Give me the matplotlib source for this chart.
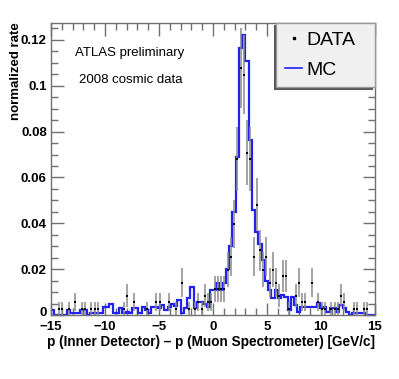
import numpy as np
import matplotlib
matplotlib.use("Agg")
import matplotlib.pyplot as plt
from matplotlib.patches import Rectangle
from matplotlib.lines import Line2D
from matplotlib.ticker import MultipleLocator, FixedLocator
from matplotlib.transforms import ScaledTranslation

plt.rcParams['font.family'] = ['Liberation Sans', 'DejaVu Sans']

# ---- data ----
bin_edges = np.linspace(-15, 15, 101)

data_counts = [
    0, 0, 1, 1, 0, 1, 0, 2, 0, 1,
    1, 0, 1, 1, 1, 0, 0, 0, 0, 0,
    0, 0, 1, 3, 0, 2, 0, 0, 0, 1,
    0, 0, 2, 2, 0, 0, 2, 0, 1, 0,
    5, 0, 1, 0, 1, 2, 1, 3, 2, 2,
    4, 4, 4, 4, 7, 9, 14, 24, 38, 37,
    25, 24, 9, 17, 10, 7, 9, 5, 7, 5,
    3, 6, 6, 1, 0, 3, 5, 2, 2, 0,
    5, 0, 2, 1, 1, 0, 1, 1, 1, 3,
    2, 0, 0, 1, 1, 0, 1, 1, 0, 0,
]

mc_values = [
    0.0022, 0.0, 0.0, 0.0, 0.0, 0.0022, 0.0007, 0.0007, 0.0007, 0.0022,
    0.0022, 0.0, 0.0010, 0.0010, 0.0010, 0.0010, 0.0034, 0.0034, 0.0048, 0.0007,
    0.0007, 0.0029, 0.0007, 0.0015, 0.0007, 0.0029, 0.0029, 0.0007, 0.0034, 0.0022,
    0.0007, 0.0034, 0.0034, 0.0029, 0.0044, 0.0022, 0.0034, 0.0048, 0.0040, 0.0065,
    0.0007, 0.0029, 0.0073, 0.0120, 0.0030, 0.0058, 0.0058, 0.0050, 0.0036, 0.0110,
    0.0110, 0.0139, 0.0110, 0.0139, 0.0200, 0.0300, 0.0450, 0.0690, 0.1164, 0.1220,
    0.1106, 0.0764, 0.0460, 0.0360, 0.0310, 0.0240, 0.0150, 0.0110, 0.0073, 0.0110,
    0.0073, 0.0087, 0.0080, 0.0022, 0.0080, 0.0044, 0.0015, 0.0036, 0.0036, 0.0036,
    0.0036, 0.0036, 0.0051, 0.0029, 0.0036, 0.0015, 0.0029, 0.0029, 0.0015, 0.0044,
    0.0029, 0.0015, 0.0, 0.0007, 0.0007, 0.0007, 0.0007, 0.0, 0.0, 0.0,
]

x_ticks = [-15, -10, -5, 0, 5, 10, 15]
x_ticklabels = ['\u221215', '\u221210', '\u22125', '0', '5', '10', '15']
y_ticks = [0, 0.02, 0.04, 0.06, 0.08, 0.1, 0.12]
y_ticklabels = ['0', '0.02', '0.04', '0.06', '0.08', '0.1', '0.12']

# ---- figure ----
W, H = 399, 379
fig = plt.figure(figsize=(W / 100, H / 100), dpi=100)
ax = fig.add_axes([51 / W, 1 - 315 / H, 324 / W, 292.3 / H])

counts = np.array(data_counts, dtype=float)
N = counts.sum()
centers = 0.5 * (bin_edges[:-1] + bin_edges[1:])
vals = counts / N
errs = np.sqrt(counts) / N
m = counts > 0

blue = '#2222ee'
ax.stairs(mc_values, bin_edges, color=blue, lw=1.6, zorder=2)
ax.errorbar(centers[m], vals[m], yerr=errs[m], fmt='none', ecolor='#8a8a8a',
            elinewidth=1.1, capsize=0, zorder=3)
ax.plot(centers[m], vals[m], 's', color='black', ms=1.6, mew=0, zorder=4)

ax.set_xlim(-15, 15)
ax.set_ylim(0, 0.1275)

axis_col = '#707070'
for s in ax.spines.values():
    s.set_color(axis_col)
    s.set_linewidth(1.0)

ax.xaxis.set_major_locator(FixedLocator(x_ticks))
ax.set_xticklabels(x_ticklabels)
ax.xaxis.set_minor_locator(MultipleLocator(1))
ax.yaxis.set_major_locator(FixedLocator(y_ticks))
ax.set_yticklabels(y_ticklabels)
ax.yaxis.set_minor_locator(MultipleLocator(0.005))
ax.tick_params(which='both', direction='in', top=True, right=True, color=axis_col, width=1.0)
ax.tick_params(which='major', length=9)
ax.tick_params(which='minor', length=5)
ax.tick_params(axis='x', which='major', pad=4.5)
ax.tick_params(axis='y', which='major', pad=3)
for lab in ax.get_xticklabels() + ax.get_yticklabels():
    lab.set_fontweight('bold')
    lab.set_fontsize(9.5)
# nudge the y "0" label slightly up, as in the reference
ylab0 = ax.get_yticklabels()[0]
ylab0.set_transform(ylab0.get_transform() + ScaledTranslation(0, 2.5 / 72, fig.dpi_scale_trans))

ax.set_xlabel('p (Inner Detector) \u2013 p (Muon Spectrometer) [GeV/c]',
              fontsize=9.8, fontweight='bold', loc='right', labelpad=1)
ax.set_ylabel('normalized rate', fontsize=9.5, fontweight='bold', loc='top', labelpad=-1)

ax.text(0.243, 0.896, 'ATLAS preliminary', transform=ax.transAxes, fontsize=9.5,
        ha='center', va='center')
ax.text(0.245, 0.804, '2008 cosmic data', transform=ax.transAxes, fontsize=9.5,
        ha='center', va='center')

# legend
handles = [Line2D([], [], marker='s', ms=1.8, color='black', lw=0),
           Line2D([], [], color=blue, lw=1.2)]
leg = ax.legend(handles, ['DATA', 'MC'], loc='upper left',
                bbox_to_anchor=(225 / 324, 0.0, 99 / 324, 1.0), mode='expand',
                borderaxespad=0, fancybox=False, frameon=True, fontsize=14,
                handlelength=0.9, handletextpad=0.2, borderpad=0.45,
                labelspacing=0.62)
fr = leg.get_frame()
fr.set_facecolor('#f0f0f0')
fr.set_edgecolor('#999999')
fr.set_linewidth(1.0)
fr.set_alpha(1)

fig.canvas.draw()
bb = leg.get_window_extent()
shadow = Rectangle((bb.x0 - 2.5, bb.y0 - 2.5), bb.width, bb.height,
                   transform=None, facecolor='#555555', edgecolor='none',
                   zorder=leg.get_zorder() - 0.5)
ax.add_artist(shadow)
shadow.set_clip_on(False)

fig.savefig('out.png', dpi=100)
